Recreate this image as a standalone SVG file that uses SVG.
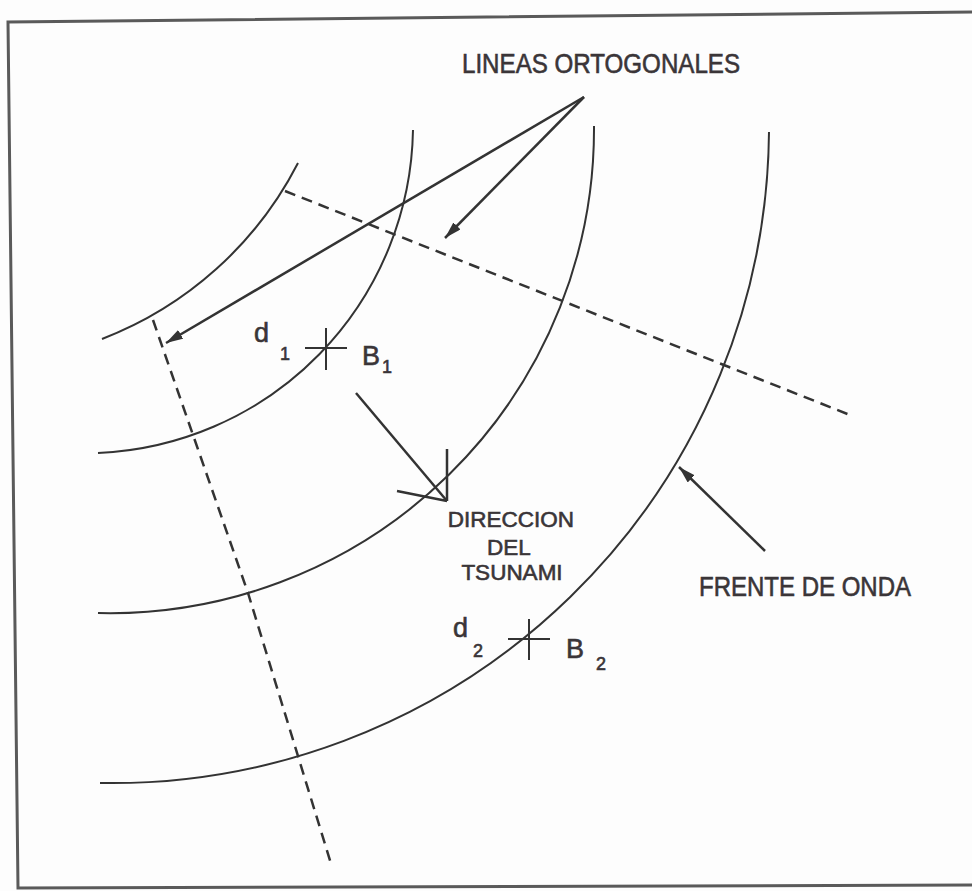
<svg xmlns="http://www.w3.org/2000/svg" width="972" height="891" viewBox="0 0 972 891">
<style>
.frame{fill:none;stroke:#5a5a5a;stroke-width:3}
.wave{fill:none;stroke:#333;stroke-width:2}
.orth{fill:none;stroke:#333;stroke-width:2.5;stroke-dasharray:11 7}
.lead{fill:none;stroke:#333;stroke-width:2.5}
.cross{fill:none;stroke:#333;stroke-width:2}
.lbl{font-family:"Liberation Sans",Arial,sans-serif;fill:#3a3538;stroke:#3a3538;stroke-width:0.6}
</style>
<defs>
<marker id="ah" markerUnits="userSpaceOnUse" markerWidth="18" markerHeight="12" refX="17" refY="5" orient="auto">
<path d="M0,0 L17,5 L0,10 z" fill="#333"/>
</marker>
</defs>
<rect x="0" y="0" width="972" height="891" fill="#fdfdfd"/>
<g id="frame">
<path class="frame" d="M972,12 L8,22 L18,888 L972,885"/>
</g>
<g id="wavefronts">
<path id="wave1" class="wave" d="M102,339 A369,369 0 0 0 298,163"/>
<path id="wave2" class="wave" d="M98,453 A329,329 0 0 0 413,130"/>
<path id="wave3" class="wave" d="M98,613 A484,484 0 0 0 594,126"/>
<path id="wave4" class="wave" d="M100,783 A657,657 0 0 0 769,132"/>
</g>
<g id="orthogonals">
<path id="orth1" class="orth" d="M285,191 L850,415"/>
<polyline id="orth2" class="orth" points="153,320 248,593 332,867"/>
</g>
<g id="connectors">
<line class="lead" x1="584" y1="97" x2="166" y2="343" marker-end="url(#ah)"/>
<line class="lead" x1="584" y1="97" x2="445" y2="238" marker-end="url(#ah)"/>
<line class="lead" x1="765" y1="551" x2="679" y2="467" marker-end="url(#ah)"/>
<g id="direction-arrow">
<line class="lead" x1="356" y1="393" x2="447" y2="501"/>
<line class="lead" x1="447" y1="501" x2="447" y2="449"/>
<line class="lead" x1="447" y1="501" x2="397" y2="491"/>
</g>
</g>
<g id="B1">
<line class="cross" x1="305" y1="348" x2="347" y2="348"/>
<line class="cross" x1="326" y1="328" x2="326" y2="370"/>
<text class="lbl" x="254" y="342" font-size="27">d</text>
<text class="lbl" x="280" y="360" font-size="18">1</text>
<text class="lbl" x="362" y="365" font-size="27">B</text>
<text class="lbl" x="382" y="373" font-size="18">1</text>
</g>
<g id="B2">
<line class="cross" x1="508" y1="639" x2="550" y2="639"/>
<line class="cross" x1="529" y1="619" x2="529" y2="660"/>
<text class="lbl" x="453" y="637" font-size="27">d</text>
<text class="lbl" x="473" y="657" font-size="18">2</text>
<text class="lbl" x="566" y="658" font-size="27">B</text>
<text class="lbl" x="596" y="670" font-size="18">2</text>
</g>
<g id="label-ortogonales">
<text class="lbl" x="462" y="73" font-size="27" textLength="278" lengthAdjust="spacingAndGlyphs">LINEAS ORTOGONALES</text>
</g>
<g id="label-direccion">
<text class="lbl" x="511" y="527" font-size="22.5" text-anchor="middle">DIRECCION</text>
<text class="lbl" x="509" y="555" font-size="22.5" text-anchor="middle">DEL</text>
<text class="lbl" x="512" y="580" font-size="22.5" text-anchor="middle">TSUNAMI</text>
</g>
<g id="label-frente">
<text class="lbl" x="699" y="596" font-size="27" textLength="212" lengthAdjust="spacingAndGlyphs">FRENTE DE ONDA</text>
</g>
</svg>
